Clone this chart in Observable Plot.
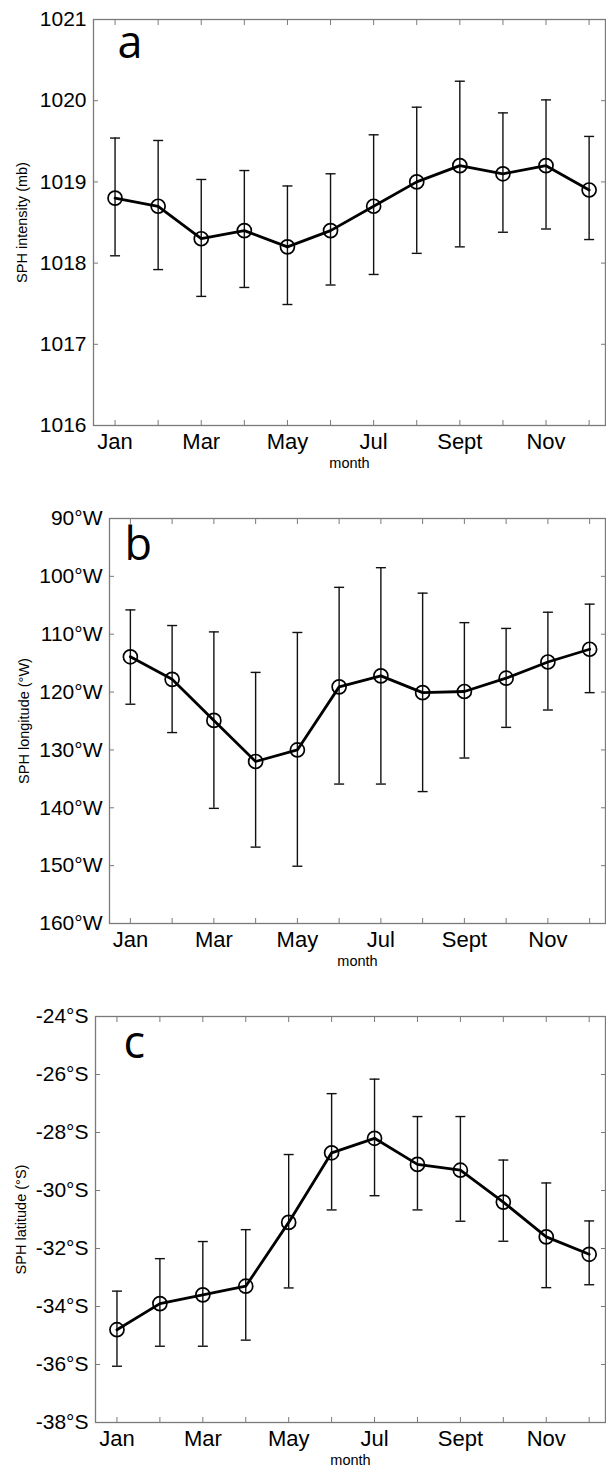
<!DOCTYPE html>
<html>
<head>
<meta charset="utf-8">
<script src="https://cdn.jsdelivr.net/npm/d3@7"></script>
<script src="https://cdn.jsdelivr.net/npm/@observablehq/plot@0.6"></script>
<style>
  body { margin: 0; background: #fff; }
  #chart svg { display: block; }
</style>
</head>
<body>
<div id="chart"></div>
<script>
// ---- data ----
const months = [1, 2, 3, 4, 5, 6, 7, 8, 9, 10, 11, 12];
const monthNames = ["Jan", "Feb", "Mar", "Apr", "May", "Jun", "Jul", "Aug", "Sept", "Oct", "Nov", "Dec"];
const labeledMonths = [1, 3, 5, 7, 9, 11];

// panel a: SPH intensity (mb)
const intensity   = [1018.8, 1018.7, 1018.3, 1018.4, 1018.2, 1018.4, 1018.7, 1019.0, 1019.2, 1019.1, 1019.2, 1018.9];
const intensityLo = [1018.09, 1017.92, 1017.59, 1017.70, 1017.49, 1017.73, 1017.86, 1018.12, 1018.20, 1018.38, 1018.42, 1018.29];
const intensityHi = [1019.54, 1019.51, 1019.03, 1019.14, 1018.95, 1019.10, 1019.58, 1019.92, 1020.24, 1019.85, 1020.01, 1019.56];
const intensityTicks = [1016, 1017, 1018, 1019, 1020, 1021];

// panel b: SPH longitude (°W)
const longitude   = [113.9, 117.8, 124.9, 132.0, 130.0, 119.1, 117.2, 120.1, 119.9, 117.6, 114.8, 112.6];
const longitudeLo = [105.8, 108.5, 109.6, 116.6, 109.7, 101.9, 98.5, 102.9, 108.0, 109.0, 106.2, 104.8];
const longitudeHi = [122.1, 127.0, 140.1, 146.8, 150.1, 135.9, 135.9, 137.2, 131.4, 126.1, 123.1, 120.1];
const longitudeTicks = [90, 100, 110, 120, 130, 140, 150, 160];

// panel c: SPH latitude (°S)
const latitude   = [-34.8, -33.9, -33.6, -33.3, -31.1, -28.7, -28.2, -29.1, -29.3, -30.4, -31.6, -32.2];
const latitudeLo = [-36.06, -35.37, -35.37, -35.16, -33.36, -30.67, -30.18, -30.67, -31.06, -31.75, -33.35, -33.25];
const latitudeHi = [-33.47, -32.35, -31.76, -31.35, -28.76, -26.66, -26.16, -27.45, -27.45, -28.95, -29.74, -31.05];
const latitudeTicks = [-38, -36, -34, -32, -30, -28, -26, -24];

// ---- drawing ----
const capSymbol = {
  draw(ctx, size) {
    const w = Math.sqrt(size / Math.PI);
    ctx.moveTo(-w, 0);
    ctx.lineTo(w, 0);
  }
};

function panel(o) {
  const data = months.map((m, i) => ({m, v: o.values[i], lo: o.lo[i], hi: o.hi[i]}));
  const gray = "#7a7a7a";
  return Plot.plot({
    width: 606,
    height: o.height,
    marginTop: o.marginTop,
    marginBottom: o.marginBottom,
    marginLeft: o.marginLeft,
    marginRight: 1,
    style: {fontFamily: "'Liberation Sans', Arial, sans-serif", fontSize: "21px", color: "#000", background: "#fff", overflow: "visible"},
    x: {domain: [0.5, 12.38]},
    y: {domain: o.domain},
    marks: [
      Plot.frame({stroke: gray, strokeWidth: 1.3}),
      // inward ticks
      Plot.axisX({anchor: "bottom", ticks: months, tickSize: -5, text: null, stroke: gray, label: null}),
      Plot.axisX({anchor: "top", ticks: months, tickSize: -5, text: null, stroke: gray, label: null}),
      Plot.axisY({anchor: "left", ticks: o.ticks, tickSize: -5, text: null, stroke: gray, label: null}),
      Plot.axisY({anchor: "right", ticks: o.ticks, tickSize: -5, text: null, stroke: gray, label: null}),
      // tick labels
      Plot.axisX({anchor: "bottom", ticks: labeledMonths, tickSize: 0, tickPadding: 8, tickFormat: d => monthNames[d - 1], label: null, fontSize: 22}),
      Plot.axisY({anchor: "left", ticks: o.ticks, tickSize: 0, tickPadding: 7, tickFormat: o.fmt, label: null, fontSize: 21}),
      // axis titles
      Plot.text([o.ylabel], {frameAnchor: "left", rotate: -90, dx: o.ylabelDx, fontSize: 14.5, textAnchor: "middle", lineAnchor: "middle"}),
      Plot.text(["month"], {frameAnchor: "bottom", dy: 38, fontSize: 14.5, lineAnchor: "middle"}),
      // panel letter
      Plot.text([o.letter], {frameAnchor: "top-left", dx: o.letterDx, dy: o.letterDy, fontSize: 45, fontFamily: "'Open Sans', sans-serif", textAnchor: "start", lineAnchor: "top"}),
      // error bars
      Plot.ruleX(data, {x: "m", y1: "lo", y2: "hi", stroke: "#111", strokeWidth: 1.4}),
      Plot.dot(data, {x: "m", y: "lo", symbol: capSymbol, r: 5, fill: "none", stroke: "#111", strokeWidth: 1.4}),
      Plot.dot(data, {x: "m", y: "hi", symbol: capSymbol, r: 5, fill: "none", stroke: "#111", strokeWidth: 1.4}),
      // mean line and circles
      Plot.line(data, {x: "m", y: "v", stroke: "#000", strokeWidth: 2.8}),
      Plot.dot(data, {x: "m", y: "v", r: 7, fill: "none", stroke: "#000", strokeWidth: 1.7})
    ]
  });
}

const chart = document.getElementById("chart");
chart.append(panel({
  values: intensity, lo: intensityLo, hi: intensityHi, ticks: intensityTicks,
  domain: [1016, 1021], fmt: d => String(d), ylabel: "SPH intensity (mb)",
  letter: "a", height: 497, marginTop: 19, marginBottom: 72, marginLeft: 93,
  ylabelDx: -71, letterDx: 24, letterDy: 7
}));
chart.append(panel({
  values: longitude, lo: longitudeLo, hi: longitudeHi, ticks: longitudeTicks,
  domain: [160, 90], fmt: d => d + "°W", ylabel: "SPH longitude (°W)",
  letter: "b", height: 497, marginTop: 21, marginBottom: 71, marginLeft: 109,
  ylabelDx: -85, letterDx: 15, letterDy: 10
}));
chart.append(panel({
  values: latitude, lo: latitudeLo, hi: latitudeHi, ticks: latitudeTicks,
  domain: [-38, -24], fmt: d => d + "°S", ylabel: "SPH latitude (°S)",
  letter: "c", height: 473, marginTop: 22, marginBottom: 45, marginLeft: 95,
  ylabelDx: -74, letterDx: 28, letterDy: 10
}));
</script>
</body>
</html>
